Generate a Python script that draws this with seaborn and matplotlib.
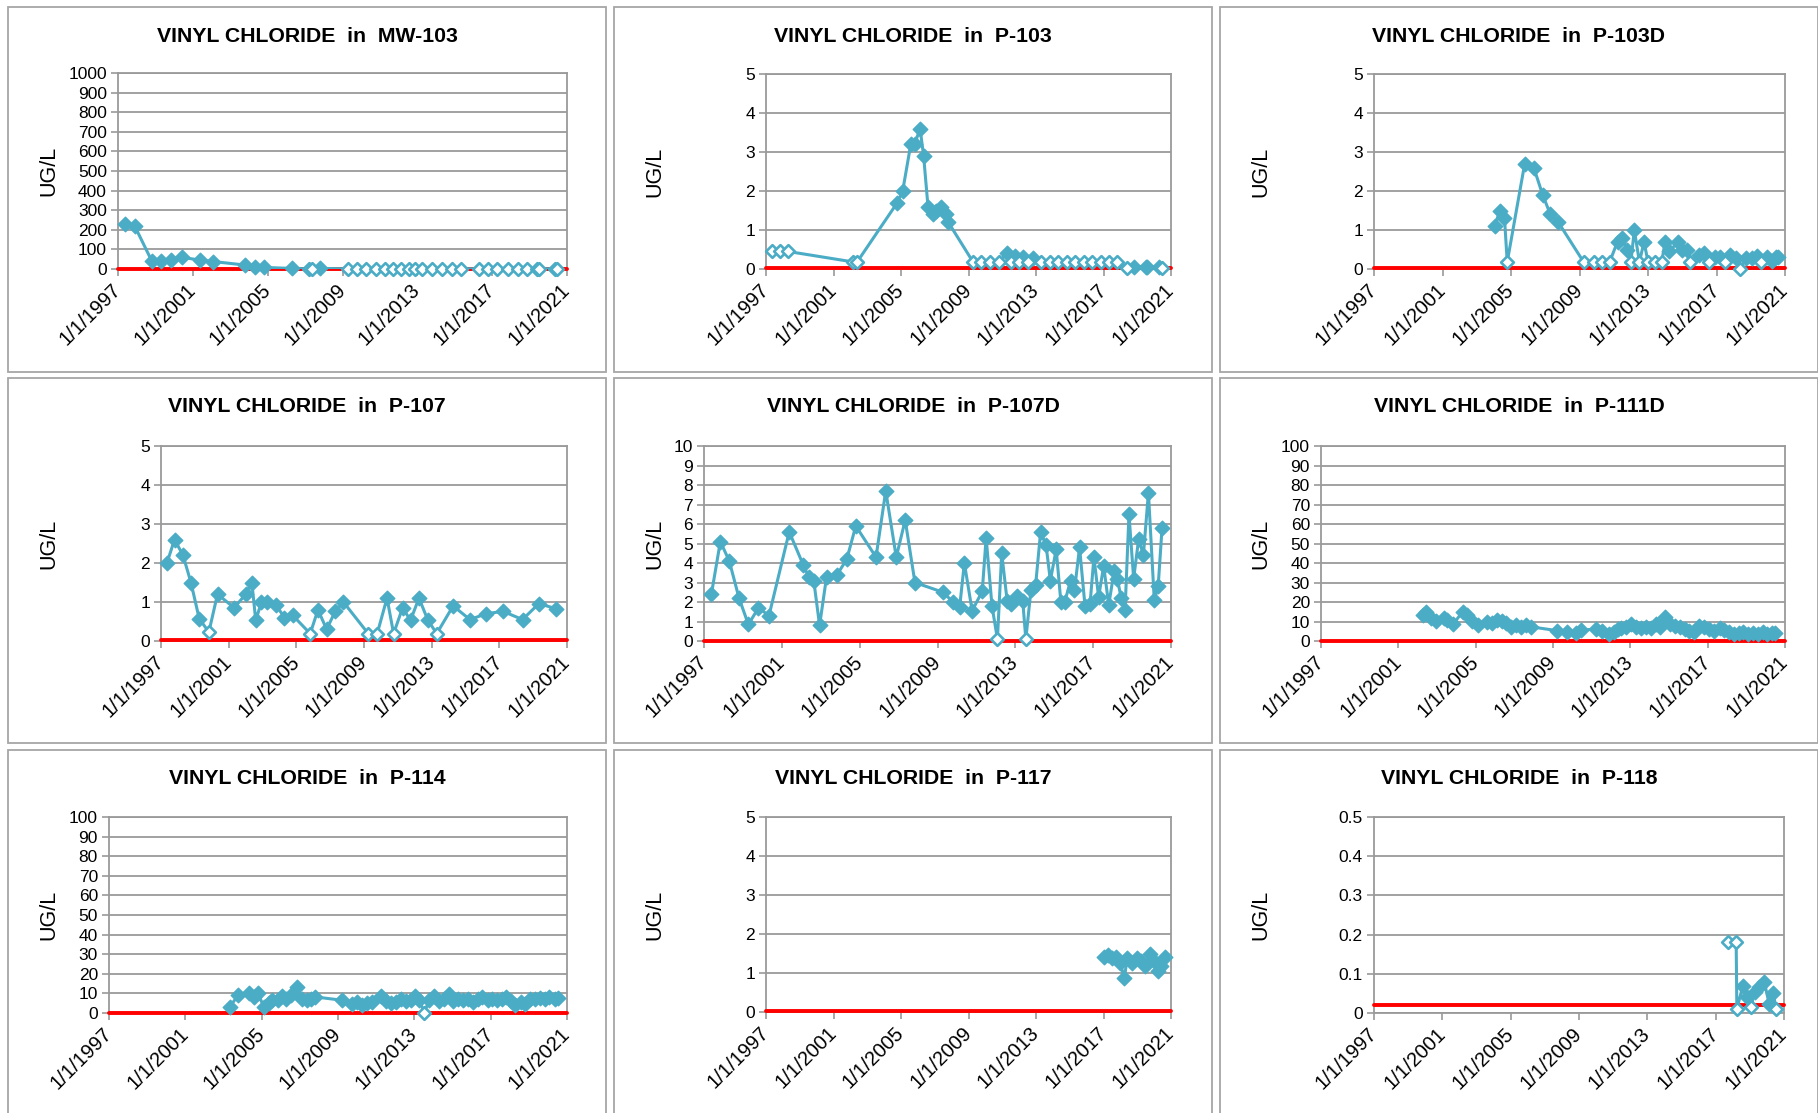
import matplotlib
matplotlib.use('Agg')
import matplotlib.pyplot as plt
from matplotlib.patches import Rectangle
import seaborn as sns
import pandas as pd
import numpy as np

# sampling dates (decimal years), vinyl chloride in ug/L, nd = 1 for non-detect (open marker)
mw103_year = [1997.4, 1997.9, 1998.8, 1999.3, 1999.85, 2000.4, 2001.4, 2002.1, 2003.8, 2004.3,
              2004.8, 2006.3, 2007.2, 2007.35, 2007.8, 2009.27, 2009.79, 2010.25, 2010.77, 2011.29,
              2011.7, 2012.12, 2012.54, 2012.85, 2013.27, 2013.79, 2014.3, 2014.83, 2015.35, 2016.28,
              2016.8, 2017.28, 2017.84, 2018.36, 2018.88, 2019.4, 2019.5, 2020.34, 2020.48]
mw103_ugl = [230, 218, 42, 42, 45, 60, 45, 38, 20, 8,
             8, 3, 1, 1, 3, 1, 1, 1, 1, 1,
             1, 1, 1, 1, 1, 1, 1, 1, 1, 1,
             1, 1, 1, 1, 1, 1, 1, 1, 1]
mw103_nd = [0, 0, 0, 0, 0, 0, 0, 0, 0, 0,
            0, 0, 1, 1, 0, 1, 1, 1, 1, 1,
            1, 1, 1, 1, 1, 1, 1, 1, 1, 1,
            1, 1, 1, 1, 1, 1, 1, 1, 1]

p103_year = [1997.35, 1997.8, 1998.3, 2002.18, 2002.4, 2004.78, 2005.1, 2005.58, 2005.81, 2006.13,
             2006.34, 2006.6, 2006.9, 2007.1, 2007.35, 2007.65, 2007.8, 2009.27, 2009.77, 2010.3,
             2010.8, 2011.27, 2011.5, 2011.73, 2012.0, 2012.23, 2012.5, 2012.8, 2013.3, 2013.8,
             2014.3, 2014.83, 2015.34, 2015.82, 2016.33, 2016.83, 2017.3, 2017.82, 2018.4, 2018.8,
             2019.5, 2019.6, 2020.3, 2020.45]
p103_ugl = [0.45, 0.45, 0.45, 0.18, 0.18, 1.7, 2.0, 3.2, 3.2, 3.6,
            2.9, 1.6, 1.4, 1.5, 1.6, 1.4, 1.2, 0.18, 0.18, 0.18,
            0.18, 0.4, 0.18, 0.33, 0.18, 0.3, 0.18, 0.28, 0.18, 0.18,
            0.18, 0.18, 0.18, 0.18, 0.18, 0.18, 0.18, 0.18, 0.02, 0.06,
            0.05, 0.05, 0.04, 0.02]
p103_nd = [1, 1, 1, 1, 1, 0, 0, 0, 0, 0,
           0, 0, 0, 0, 0, 0, 0, 1, 1, 1,
           1, 0, 1, 0, 1, 0, 1, 0, 1, 1,
           1, 1, 1, 1, 1, 1, 1, 1, 1, 0,
           0, 0, 0, 1]

p103d_year = [2004.05, 2004.35, 2004.62, 2004.78, 2005.8, 2006.33, 2006.85, 2007.3, 2007.76, 2009.24,
              2009.85, 2010.3, 2010.76, 2011.22, 2011.5, 2011.79, 2012.0, 2012.2, 2012.5, 2012.77,
              2013.0, 2013.4, 2013.8, 2014.0, 2014.25, 2014.75, 2014.97, 2015.27, 2015.47, 2016.0,
              2016.27, 2016.56, 2016.9, 2017.18, 2017.5, 2017.77, 2018.15, 2018.4, 2018.7, 2019.07,
              2019.34, 2019.6, 2019.93, 2020.25, 2020.48, 2020.6]
p103d_ugl = [1.1, 1.5, 1.3, 0.18, 2.7, 2.6, 1.9, 1.4, 1.2, 0.18,
             0.18, 0.18, 0.18, 0.7, 0.8, 0.5, 0.18, 1.0, 0.18, 0.7,
             0.18, 0.18, 0.18, 0.7, 0.45, 0.7, 0.5, 0.5, 0.18, 0.37,
             0.4, 0.18, 0.3, 0.3, 0.18, 0.35, 0.27, 0.0, 0.28, 0.28,
             0.33, 0.18, 0.3, 0.2, 0.3, 0.3]
p103d_nd = [0, 0, 0, 1, 0, 0, 0, 0, 0, 1,
            1, 1, 1, 0, 0, 0, 1, 0, 1, 0,
            1, 1, 1, 0, 0, 0, 0, 0, 1, 0,
            0, 1, 0, 0, 1, 0, 0, 1, 0, 0,
            0, 1, 0, 0, 0, 0]

p107_year = [1997.35, 1997.8, 1998.3, 1998.77, 1999.26, 1999.83, 2000.34, 2001.33, 2002.0, 2002.37,
             2002.6, 2002.94, 2003.29, 2003.8, 2004.3, 2004.78, 2005.82, 2006.28, 2006.79, 2007.3,
             2007.78, 2009.25, 2009.78, 2010.36, 2010.75, 2011.28, 2011.75, 2012.25, 2012.78, 2013.3,
             2014.27, 2015.26, 2016.23, 2017.22, 2018.37, 2019.34, 2020.33]
p107_ugl = [2.0, 2.6, 2.2, 1.5, 0.57, 0.23, 1.2, 0.85, 1.2, 1.5,
            0.53, 1.0, 1.0, 0.92, 0.6, 0.66, 0.19, 0.8, 0.3, 0.76,
            1.0, 0.19, 0.19, 1.1, 0.19, 0.85, 0.53, 1.1, 0.53, 0.19,
            0.9, 0.55, 0.7, 0.76, 0.55, 0.96, 0.83]
p107_nd = [0, 0, 0, 0, 0, 1, 0, 0, 0, 0,
           0, 0, 0, 0, 0, 0, 1, 0, 0, 0,
           0, 1, 1, 0, 1, 0, 0, 0, 0, 1,
           0, 0, 0, 0, 0, 0, 0]

p107d_year = [1997.38, 1997.84, 1998.3, 1998.8, 1999.28, 1999.8, 2000.34, 2001.38, 2002.1, 2002.38,
              2002.64, 2002.94, 2003.3, 2003.84, 2004.34, 2004.8, 2005.84, 2006.34, 2006.88, 2007.34,
              2007.84, 2009.28, 2009.8, 2010.14, 2010.38, 2010.78, 2011.3, 2011.5, 2011.8, 2012.08,
              2012.3, 2012.58, 2012.78, 2013.08, 2013.38, 2013.54, 2013.8, 2014.04, 2014.3, 2014.58,
              2014.8, 2015.1, 2015.34, 2015.54, 2015.84, 2016.04, 2016.3, 2016.58, 2016.84, 2017.04,
              2017.28, 2017.54, 2017.8, 2018.08, 2018.24, 2018.44, 2018.64, 2018.84, 2019.08, 2019.34,
              2019.58, 2019.84, 2020.14, 2020.34, 2020.54]
p107d_ugl = [2.4, 5.1, 4.1, 2.2, 0.85, 1.7, 1.3, 5.6, 3.9, 3.3,
             3.1, 0.8, 3.3, 3.4, 4.2, 5.9, 4.3, 7.7, 4.3, 6.2,
             3.0, 2.5, 2.0, 1.75, 4.0, 1.55, 2.55, 5.3, 1.8, 0.1,
             4.5, 2.05, 1.9, 2.3, 2.05, 0.1, 2.6, 2.85, 5.6, 4.9,
             3.1, 4.7, 2.0, 2.0, 3.1, 2.6, 4.8, 1.8, 1.9, 4.3,
             2.25, 3.85, 1.85, 3.6, 3.2, 2.2, 1.6, 6.5, 3.2, 5.25,
             4.4, 7.6, 2.1, 2.8, 5.8]
p107d_nd = [0, 0, 0, 0, 0, 0, 0, 0, 0, 0,
            0, 0, 0, 0, 0, 0, 0, 0, 0, 0,
            0, 0, 0, 0, 0, 0, 0, 0, 0, 1,
            0, 0, 0, 0, 0, 1, 0, 0, 0, 0,
            0, 0, 0, 0, 0, 0, 0, 0, 0, 0,
            0, 0, 0, 0, 0, 0, 0, 0, 0, 0,
            0, 0, 0, 0, 0]

p111d_year = [2002.27, 2002.43, 2002.67, 2002.94, 2003.34, 2003.54, 2003.82, 2004.33, 2004.55, 2004.8,
              2005.1, 2005.6, 2005.86, 2006.1, 2006.36, 2006.56, 2006.84, 2007.1, 2007.37, 2007.6,
              2007.85, 2009.22, 2009.72, 2010.19, 2010.43, 2011.23, 2011.53, 2011.88, 2012.14, 2012.34,
              2012.54, 2012.8, 2013.04, 2013.29, 2013.55, 2013.8, 2014.05, 2014.31, 2014.56, 2014.8,
              2015.06, 2015.32, 2015.56, 2015.82, 2016.06, 2016.3, 2016.57, 2016.83, 2017.07, 2017.33,
              2017.63, 2017.87, 2018.11, 2018.38, 2018.62, 2018.84, 2019.08, 2019.34, 2019.58, 2019.85,
              2020.09, 2020.33, 2020.5]
p111d_ugl = [13.3, 15, 12, 10.2, 12, 10.7, 8.5, 15, 13.3, 10.4,
             8.2, 9.9, 9, 10.7, 10.2, 9, 7.3, 8.2, 7.3, 8.2,
             7.3, 5.3, 4.8, 4.3, 5.6, 6.1, 5.1, 3.6, 4.8, 6,
             6.5, 7, 8.5, 7.3, 6.5, 7.3, 6.5, 8.5, 7.3, 12.5,
             8.5, 7.8, 7.3, 6.1, 5.1, 4.4, 7.8, 7, 6.1, 5.1,
             6.5, 5.6, 4.8, 3.4, 4.3, 4.8, 3.4, 4.3, 3.4, 4.8,
             3.4, 4.3, 3.9]
p111d_nd = [0, 0, 0, 0, 0, 0, 0, 0, 0, 0,
            0, 0, 0, 0, 0, 0, 0, 0, 0, 0,
            0, 0, 0, 0, 0, 0, 0, 0, 0, 0,
            0, 0, 0, 0, 0, 0, 0, 0, 0, 0,
            0, 0, 0, 0, 0, 0, 0, 0, 0, 0,
            0, 0, 0, 0, 0, 0, 0, 0, 0, 0,
            0, 0, 0]

p114_year = [2003.32, 2003.77, 2004.34, 2004.59, 2004.79, 2005.12, 2005.36, 2005.56, 2005.83, 2006.07,
             2006.28, 2006.54, 2006.83, 2007.09, 2007.36, 2007.6, 2007.8, 2009.23, 2009.74, 2010.0,
             2010.25, 2010.52, 2010.76, 2011.27, 2011.53, 2011.78, 2012.05, 2012.3, 2012.56, 2012.8,
             2013.05, 2013.27, 2013.52, 2013.77, 2014.02, 2014.29, 2014.53, 2014.84, 2015.04, 2015.31,
             2015.55, 2015.82, 2016.06, 2016.33, 2016.57, 2016.84, 2017.08, 2017.35, 2017.59, 2017.8,
             2018.06, 2018.3, 2018.57, 2018.82, 2019.06, 2019.33, 2019.57, 2019.84, 2020.08, 2020.35,
             2020.55]
p114_ugl = [3.1, 9, 10.4, 8.2, 10.2, 3.1, 5.1, 6.5, 6.8, 8.7,
            7.3, 9.4, 13.3, 7, 6.5, 7, 8.2, 6.5, 4.8, 5.6,
            4.3, 5.1, 5.6, 8.7, 6, 5.1, 5.6, 7.3, 6, 6.5,
            8.7, 6.5, 0, 6.5, 8.7, 6, 7, 9.9, 6, 7,
            6.5, 7, 5.6, 7, 8.2, 6.5, 7.3, 6.5, 7.3, 8.2,
            6, 4.3, 5.6, 4.8, 7.3, 7, 7.8, 7.3, 8.2, 7,
            7.6]
p114_nd = [0, 0, 0, 0, 0, 0, 0, 0, 0, 0,
           0, 0, 0, 0, 0, 0, 0, 0, 0, 0,
           0, 0, 0, 0, 0, 0, 0, 0, 0, 0,
           0, 0, 1, 0, 0, 0, 0, 0, 0, 0,
           0, 0, 0, 0, 0, 0, 0, 0, 0, 0,
           0, 0, 0, 0, 0, 0, 0, 0, 0, 0,
           0]

p117_year = [2017.02, 2017.25, 2017.52, 2017.76, 2017.99, 2018.24, 2018.4, 2018.68, 2018.98, 2019.2,
             2019.48, 2019.78, 2020.01, 2020.24, 2020.42, 2020.65]
p117_ugl = [1.4, 1.47, 1.38, 1.4, 1.25, 0.87, 1.38, 1.25, 1.38, 1.3,
            1.18, 1.48, 1.3, 1.06, 1.18, 1.4]
p117_nd = [0, 0, 0, 0, 0, 0, 0, 0, 0, 0,
           0, 0, 0, 0, 0, 0]

p118_year = [2017.74, 2018.2, 2018.24, 2018.6, 2018.83, 2019.06, 2019.29, 2019.56, 2019.84, 2020.13,
             2020.36, 2020.55]
p118_ugl = [0.18, 0.18, 0.011, 0.07, 0.04, 0.015, 0.054, 0.066, 0.08, 0.024,
            0.05, 0.011]
p118_nd = [1, 1, 1, 0, 0, 1, 0, 0, 0, 0,
           0, 1]

cleanup_level = 0.02
xtick_years = [1997, 2001, 2005, 2009, 2013, 2017, 2021]
xtick_labels = ['1/1/1997', '1/1/2001', '1/1/2005', '1/1/2009', '1/1/2013', '1/1/2017', '1/1/2021']

sns.set_theme(style='white')
plt.rcParams['font.family'] = ['Liberation Sans', 'DejaVu Sans']

W, H = 1818, 1113
BLUE = '#4BACC6'
GRID = '#9A9A9A'
BORDER = '#A6A6A6'
col_left = [8, 614, 1220]
row_top = [7, 378, 750]
PANEL_W, PANEL_H = 598, 365

# (name, year, ugl, nd, ymax, ystep, row, col, plot-area box in px: left, right, top, bottom)
wells = [
    ('MW-103', mw103_year, mw103_ugl, mw103_nd, 1000, 100, 0, 0, (118, 567, 73, 269)),
    ('P-103', p103_year, p103_ugl, p103_nd, 5, 1, 0, 1, (766, 1171, 74, 269)),
    ('P-103D', p103d_year, p103d_ugl, p103d_nd, 5, 1, 0, 2, (1374, 1785, 74, 269)),
    ('P-107', p107_year, p107_ugl, p107_nd, 5, 1, 1, 0, (161, 567, 446, 641)),
    ('P-107D', p107d_year, p107d_ugl, p107d_nd, 10, 1, 1, 1, (704, 1171, 446, 641)),
    ('P-111D', p111d_year, p111d_ugl, p111d_nd, 100, 10, 1, 2, (1321, 1785, 446, 641)),
    ('P-114', p114_year, p114_ugl, p114_nd, 100, 10, 2, 0, (109, 567, 817, 1013)),
    ('P-117', p117_year, p117_ugl, p117_nd, 5, 1, 2, 1, (766, 1171, 817, 1012)),
    ('P-118', p118_year, p118_ugl, p118_nd, 0.5, 0.1, 2, 2, (1374, 1784, 817, 1013)),
]

fig = plt.figure(figsize=(W / 100, H / 100), dpi=100)
fig.patch.set_facecolor('white')

for name, year, ugl, nd, ymax, ystep, r, c, box in wells:
    px, py = col_left[c], row_top[r]
    fig.add_artist(Rectangle((px / W, 1 - (py + PANEL_H) / H), PANEL_W / W, PANEL_H / H,
                             transform=fig.transFigure, fill=False, edgecolor=BORDER, lw=1.3))

    left, right, top, bottom = box
    ax = fig.add_axes([left / W, 1 - bottom / H, (right - left) / W, (bottom - top) / H])
    df = pd.DataFrame({'year': year, 'ugl': ugl, 'nd': nd})

    # red reference line sits on top of the axis frame, under the data
    ax.axhline(cleanup_level, color='#FF0000', lw=2.8, zorder=2.8, clip_on=False)
    sns.lineplot(data=df, x='year', y='ugl', ax=ax, color=BLUE, lw=2.2,
                 estimator=None, sort=False, zorder=3)
    det = df[df['nd'] == 0]
    if len(det):
        sns.scatterplot(data=det, x='year', y='ugl', ax=ax, marker='D', s=55,
                        color=BLUE, edgecolor=BLUE, linewidth=1, zorder=4, clip_on=False)
    nondet = df[df['nd'] == 1]
    if len(nondet):
        sns.scatterplot(data=nondet, x='year', y='ugl', ax=ax, marker='D', s=42,
                        color='white', edgecolor=BLUE, linewidth=1.9, zorder=4, clip_on=False)

    ax.set_xlim(1997, 2021)
    ax.set_ylim(0, ymax)
    yt = np.round(np.arange(0, ymax + ystep / 2, ystep), 6)
    ax.set_yticks(yt)
    ax.set_yticklabels([f'{v:g}' for v in yt], fontsize=12.5)
    ax.set_xticks(xtick_years)
    ax.set_xticklabels(xtick_labels, rotation=45, ha='right', va='center',
                       rotation_mode='anchor', fontsize=14.5)
    ax.set_xlabel('')
    ax.set_ylabel('')
    ax.yaxis.grid(True, color=GRID, lw=1.3)
    ax.xaxis.grid(False)
    ax.set_axisbelow(True)
    for sp in ax.spines.values():
        sp.set_visible(True)
        sp.set_color(GRID)
        sp.set_linewidth(1.3)
        sp.set_zorder(2.5)
    ax.tick_params(axis='both', direction='out', length=5, width=1.2, color=GRID,
                   labelcolor='black', bottom=True, left=True)
    ax.tick_params(axis='x', pad=8)
    ax.tick_params(axis='y', pad=3)
    ax.set_facecolor('white')

    fig.text((px + PANEL_W / 2) / W, 1 - (py + 29) / H, f'VINYL CHLORIDE  in  {name}',
             ha='center', va='center', fontsize=15.3, fontweight='bold', color='black')
    fig.text((px + 41) / W, 1 - ((top + bottom) / 2) / H, 'UG/L', rotation=90,
             ha='center', va='center', fontsize=15.5, color='black')

fig.savefig('out.png', dpi=100, facecolor='white')
plt.close(fig)
